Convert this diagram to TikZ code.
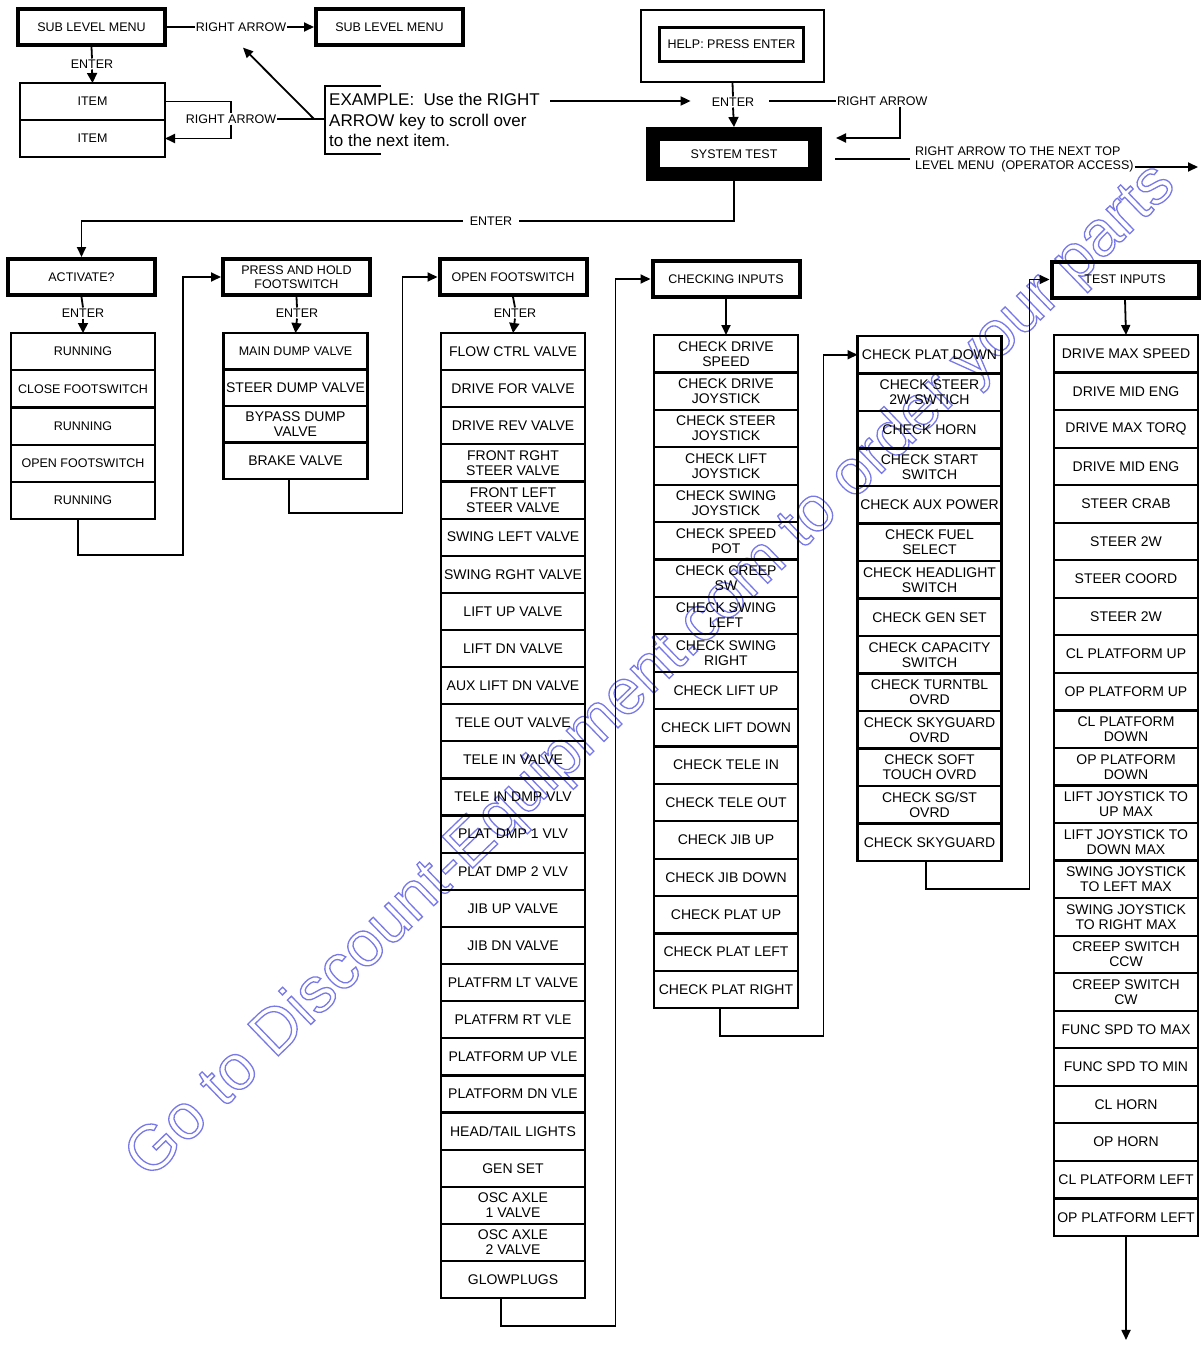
\documentclass[tikz,border=0pt]{standalone}
\usepackage{fontspec}
\setmainfont{Liberation Sans}
\usetikzlibrary{arrows.meta,positioning}
\definecolor{wmblue}{RGB}{120,120,232}
\newcommand{\outlined}[1]{\special{pdf:literal direct 1 Tr 1.3 w 0.47 0.47 0.91 RG}#1%
   \special{pdf:literal direct 0 Tr}}

\begin{document}
\begin{tikzpicture}[
   x=1pt, y=-1pt,
   smallfont/.style={font=\fontsize{12.5}{14}\selectfont},
   itemfont/.style={font=\fontsize{14}{15}\selectfont},
   menubox/.style={draw, line width=4pt, minimum width=147pt, minimum height=36pt,
      align=center, inner sep=1pt, smallfont},
   item/.style={draw, line width=2.2pt, minimum width=144pt, align=center,
      inner sep=1pt, outer sep=0pt, itemfont},
   sysbox/.style={draw, line width=14pt, minimum width=162pt, minimum height=40pt,
      smallfont},
   lbl/.style={inner sep=1pt, smallfont},
   link/.style={line width=1.8pt},
   arrow/.style={-{Triangle[length=10pt, width=9pt]}, line width=1.8pt},
   tri/.style={-{Triangle[length=10pt, width=10pt]}, line width=1.8pt},
   watermark/.style={font=\fontsize{64}{64}\selectfont, text=wmblue}
]
\useasboundingbox (0,0) rectangle (1201,1346);
\node[watermark, rotate=44] (wm) at (652,672)
   {\outlined{Go to Discount-Equipment.com to order your parts}};

% example in the top left corner
\node[menubox] (sub1) at (91.5,27) {SUB LEVEL MENU};
\node[menubox] (sub2) at (389.5,27) {SUB LEVEL MENU};
\node[lbl] (ra1) at (241,27) {RIGHT ARROW};
\draw[link] (sub1.east) -- (ra1.west);
\draw[arrow] (ra1.east) -- (sub2.west);
\node[lbl] (enter0) at (92,64) {ENTER};
\node[item, smallfont, minimum width=145pt, minimum height=37pt] (item1)
   at (92.5,101.5) {ITEM};
\node[item, smallfont, minimum width=145pt, minimum height=37pt,
   below=0pt of item1] (item2) {ITEM};
\draw[link] (sub1.south) -- (enter0.north);
\draw[tri] (enter0.south) -- (item1.north);
\node[lbl] (ra2) at (231,119) {RIGHT ARROW};
\draw[link] (item1.east) -| (ra2.north);
\draw[arrow] (ra2.south) |- (item2.east);
\node[anchor=north west, align=left, inner xsep=4pt, inner ysep=7pt,
   font=\fontsize{17}{20.5}\selectfont] (example) at (325,86)
   {EXAMPLE:\ \ Use the RIGHT\\ARROW key to scroll over\\to the next item.};
\draw[link, line width=1.5pt] ([xshift=56pt]example.north west)
   -- (example.north west) -- (example.south west) -- ++(56,0);
\draw[link] (ra2.east) -- (ra2.east -| example.west);
\coordinate (diagstart) at (314,119);
\draw[arrow] (diagstart) -- ([shift={(2pt,-15pt)}]ra1.south);

% help and system test
\node[draw, line width=2pt, minimum width=183pt, minimum height=72pt]
   (helpframe) at (732.5,46) {};
\node[draw, line width=3pt, minimum width=144pt, minimum height=34pt, smallfont]
   (help) at (731.5,44.5) {HELP: PRESS ENTER};
\node[lbl] (enter2) at (733,102) {ENTER};
\node[sysbox] (systest) at (734,154) {SYSTEM TEST};
\draw[link] (helpframe.south) -- (enter2.north);
\draw[tri] (enter2.south) -- (systest.north);
\coordinate (exend) at (550,101);
\draw[arrow, shorten >=20pt] (exend) -- (exend -| enter2.west);
\node[lbl, anchor=west] (ra3) at (836,101) {RIGHT ARROW};
\draw[link, shorten <=14pt] (enter2.east |- ra3.west) -- (ra3.west);
\draw[arrow] ([xshift=18pt]ra3.south) |- ([xshift=14pt,yshift=16pt]systest.east);
\node[lbl, anchor=west, align=left] (nexttop) at (914,159)
   {RIGHT ARROW TO THE NEXT TOP\\LEVEL MENU\ \ (OPERATOR ACCESS)};
\draw[link, shorten <=13pt, shorten >=4pt] (systest.east |- nexttop.west)
   -- (nexttop.west);
\coordinate (nextmenu) at (1198,167);
\draw[arrow] (nexttop.east |- nextmenu) -- (nextmenu);
\node[lbl] (enter3) at (491,221) {ENTER};
\draw[link] (systest.south) |- ([xshift=6pt]enter3.east);

% menu heads
\node[menubox] (activate) at (81.5,277) {ACTIVATE?};
\node[menubox] (presshold) at (296.5,277) {PRESS AND HOLD\\FOOTSWITCH};
\node[menubox] (openfs) at (513,277) {OPEN FOOTSWITCH};
\node[menubox] (chkinputs) at (726,279) {CHECKING INPUTS};
\node[menubox] (testinputs) at (1125,279.5) {TEST INPUTS};
\draw[arrow] ([xshift=-6pt]enter3.west) -| (activate.north);

% lists
\foreach \t [count=\i] in {RUNNING, CLOSE FOOTSWITCH, RUNNING, OPEN FOOTSWITCH,
   RUNNING}
   \node[item, smallfont, minimum height=37.2pt] (run\i)
      at (83,{333+37.2*(\i-0.5)}) {\t};
\node[item, smallfont, minimum height=36.5pt] (dump1) at (295.5,351.25)
   {MAIN DUMP VALVE};
\node[item, minimum height=36.5pt, below=0pt of dump1] (dump2) {STEER DUMP VALVE};
\node[item, minimum height=36.5pt, below=0pt of dump2] (dump3)
   {BYPASS DUMP\\VALVE};
\node[item, minimum height=36.5pt, below=0pt of dump3] (dump4) {BRAKE VALVE};
\foreach \t [count=\i] in {FLOW CTRL VALVE, DRIVE FOR VALVE, DRIVE REV VALVE,
   FRONT RGHT\\STEER VALVE, FRONT LEFT\\STEER VALVE, SWING LEFT VALVE,
   SWING RGHT VALVE, LIFT UP VALVE, LIFT DN VALVE, AUX LIFT DN VALVE,
   TELE OUT VALVE, TELE IN VALVE, TELE IN DMP VLV, PLAT DMP 1 VLV, PLAT DMP 2 VLV,
   JIB UP VALVE, JIB DN VALVE, PLATFRM LT VALVE, PLATFRM RT VLE, PLATFORM UP VLE,
   PLATFORM DN VLE, HEAD/TAIL LIGHTS, GEN SET, OSC AXLE\\1 VALVE,
   OSC AXLE\\2 VALVE, GLOWPLUGS}
   \node[item, minimum height=37.12pt] (valve\i)
      at (513,{333+37.12*(\i-0.5)}) {\t};
\foreach \t [count=\i] in {CHECK DRIVE\\SPEED, CHECK DRIVE\\JOYSTICK,
   CHECK STEER\\JOYSTICK, CHECK LIFT\\JOYSTICK, CHECK SWING\\JOYSTICK,
   CHECK SPEED\\POT, CHECK CREEP\\SW, CHECK SWING\\LEFT, CHECK SWING\\RIGHT,
   CHECK LIFT UP, CHECK LIFT DOWN, CHECK TELE IN, CHECK TELE OUT, CHECK JIB UP,
   CHECK JIB DOWN, CHECK PLAT UP, CHECK PLAT LEFT, CHECK PLAT RIGHT}
   \node[item, minimum height=37.4pt] (input\i)
      at (726,{335+37.4*(\i-0.5)}) {\t};
\foreach \t [count=\i] in {CHECK PLAT DOWN, CHECK STEER\\2W SWTICH, CHECK HORN,
   CHECK START\\SWITCH, CHECK AUX POWER, CHECK FUEL\\SELECT,
   CHECK HEADLIGHT\\SWITCH, CHECK GEN SET, CHECK CAPACITY\\SWITCH,
   CHECK TURNTBL\\OVRD, CHECK SKYGUARD\\OVRD, CHECK SOFT\\TOUCH OVRD,
   CHECK SG/ST\\OVRD, CHECK SKYGUARD}
   \node[item, minimum height=37.5pt] (chk\i)
      at (929.5,{336+37.5*(\i-0.5)}) {\t};
\foreach \t [count=\i] in {DRIVE MAX SPEED, DRIVE MID ENG, DRIVE MAX TORQ,
   DRIVE MID ENG, STEER CRAB, STEER 2W, STEER COORD, STEER 2W, CL PLATFORM UP,
   OP PLATFORM UP, CL PLATFORM\\DOWN, OP PLATFORM\\DOWN, LIFT JOYSTICK TO\\UP MAX,
   LIFT JOYSTICK TO\\DOWN MAX, SWING JOYSTICK\\TO LEFT MAX,
   SWING JOYSTICK\\TO RIGHT MAX, CREEP SWITCH\\CCW, CREEP SWITCH\\CW,
   FUNC SPD TO MAX, FUNC SPD TO MIN, CL HORN, OP HORN, CL PLATFORM LEFT,
   OP PLATFORM LEFT}
   \node[item, minimum height=37.54pt] (test\i)
      at (1126,{335+37.54*(\i-0.5)}) {\t};

% enter steps
\node[lbl] (enter4) at (83,313) {ENTER};
\node[lbl] (enter5) at (297,313) {ENTER};
\node[lbl] (enter6) at (515,313) {ENTER};
\draw[link] (activate.south) -- (enter4.north);
\draw[tri] (enter4.south) -- (run1.north);
\draw[link] (presshold.south) -- (enter5.north);
\draw[tri] (enter5.south) -- (dump1.north);
\draw[link] (openfs.south) -- (enter6.north);
\draw[tri] (enter6.south) -- (valve1.north);
\draw[arrow] (chkinputs.south) -- (input1.north);
\draw[arrow] (testinputs.south) -- (test1.north);

% from the end of one list to the next menu
\draw[arrow] ([xshift=-5pt]run5.south) -- ++(0,36)
   -| ([xshift=-38pt]presshold.west) -- (presshold.west);
\draw[arrow] ([xshift=-6.5pt]dump4.south) -- ++(0,34)
   -| ([xshift=-35pt]openfs.west) -- (openfs.west);
\draw[arrow] ([xshift=-12pt]valve26.south) -- ++(0,28)
   -| ([xshift=-35pt]chkinputs.west) -- (chkinputs.west);
\draw[arrow] ([xshift=-6pt]input18.south) -- ++(0,28)
   -| ([xshift=-34pt]chk1.west) -- (chk1.west);
\draw[arrow] ([xshift=-3.5pt]chk14.south) -- ++(0,28)
   -| ([xshift=-20pt]testinputs.west) -- (testinputs.west);
\draw[arrow] (test24.south) -- ++(0,104);
\end{tikzpicture}
\end{document}
